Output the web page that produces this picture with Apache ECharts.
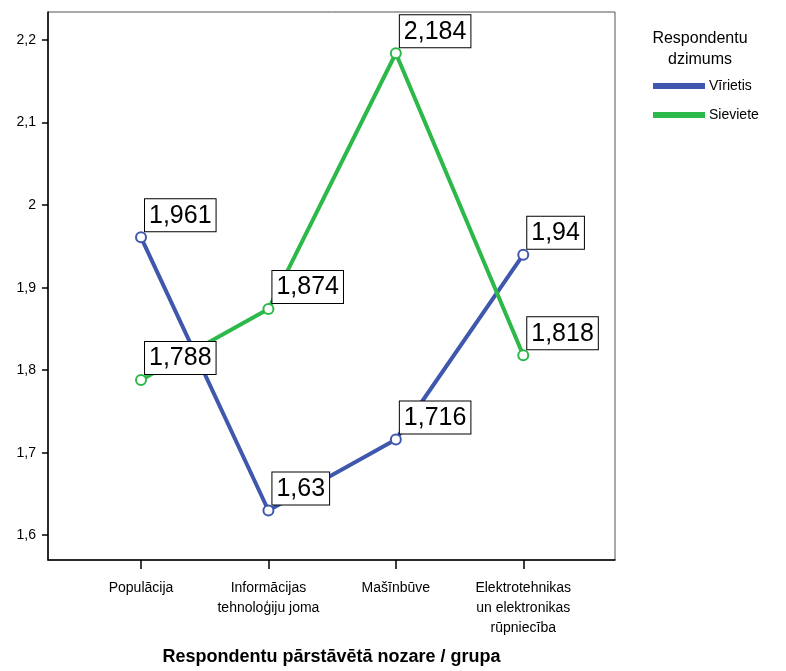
<!DOCTYPE html>
<html><head><meta charset="utf-8">
<script src="https://cdn.jsdelivr.net/npm/echarts@6/dist/echarts.min.js"></script>
<style>html,body{margin:0;padding:0;background:#fff}#c{width:786px;height:671px}</style>
</head><body><div id="c"></div>
<script>
const categories = ['Populācija', 'Informācijas\ntehnoloģiju joma', 'Mašīnbūve', 'Elektrotehnikas\nun elektronikas\nrūpniecība'];
const seriesNames = ['Vīrietis', 'Sieviete'];
const viriets = [1.961, 1.63, 1.716, 1.94];
const sieviete = [1.788, 1.874, 2.184, 1.818];
const yTicks = [1.6, 1.7, 1.8, 1.9, 2.0, 2.1, 2.2];
const legendTitle = 'Respondentu\ndzimums';
const xTitle = 'Respondentu pārstāvētā nozare / grupa';

const fmt = v => String(+v.toFixed(3)).replace('.', ',');
const font = 'Liberation Sans, Arial, sans-serif';
const colors = ['#3f58ad', '#2db84a'];

function mk(name, vals, color) {
  return {
    name, type: 'line', data: vals.map((v, i) => [i, v]),
    color,
    lineStyle: { width: 4, color },
    symbol: 'emptyCircle', symbolSize: 10,
    itemStyle: { color, borderWidth: 2, borderColor: color },
    label: {
      show: true, position: [10, -32],
      formatter: p => fmt(p.value[1]),
      fontFamily: font, fontSize: 25, color: '#000',
      backgroundColor: '#fff', borderColor: '#000', borderWidth: 1,
      padding: [4, 4, 3, 4]
    },
    emphasis: { disabled: true }
  };
}

const chart = echarts.init(document.getElementById('c'));
chart.setOption({
  animation: false,
  textStyle: { fontFamily: font },
  grid: { left: 48, top: 12, right: 171, bottom: 111, show: true, borderColor: '#555', borderWidth: 1 },
  title: { text: legendTitle, left: 695, top: 23, textAlign: 'center',
    textStyle: { fontFamily: font, fontSize: 16, fontWeight: 'normal', color: '#000', lineHeight: 21 } },
  legend: {
    orient: 'vertical', left: 653, top: 79, padding: 0, itemWidth: 50, itemHeight: 4, itemGap: 15,
    icon: 'rect', data: seriesNames,
    textStyle: { fontFamily: font, fontSize: 14, color: '#000' }
  },
  xAxis: {
    type: 'value', min: -0.73, max: 3.72,
    splitLine: { show: false },
    axisLine: { onZero: false, lineStyle: { color: '#000', width: 1.5 } },
    axisTick: { show: true, customValues: [0, 1, 2, 3], length: 9, lineStyle: { color: '#000', width: 1.5 } },
    axisLabel: { customValues: [0, 1, 2, 3], formatter: v => categories[Math.round(v)], margin: 18,
      fontFamily: font, fontSize: 14, color: '#000', lineHeight: 20 },
    name: xTitle, nameLocation: 'middle', nameGap: 88,
    nameTextStyle: { fontFamily: font, fontSize: 18, fontWeight: 'bold', color: '#000' }
  },
  yAxis: {
    type: 'value', min: 1.57, max: 2.234,
    splitLine: { show: false },
    axisLine: { show: true, onZero: false, lineStyle: { color: '#000', width: 1.5 } },
    axisTick: { show: true, customValues: yTicks, length: 6, lineStyle: { color: '#000', width: 1.5 } },
    axisLabel: { customValues: yTicks, formatter: v => fmt(v), margin: 12,
      fontFamily: font, fontSize: 14, color: '#000' }
  },
  series: [mk(seriesNames[0], viriets, colors[0]), mk(seriesNames[1], sieviete, colors[1])]
});
</script></body></html>
